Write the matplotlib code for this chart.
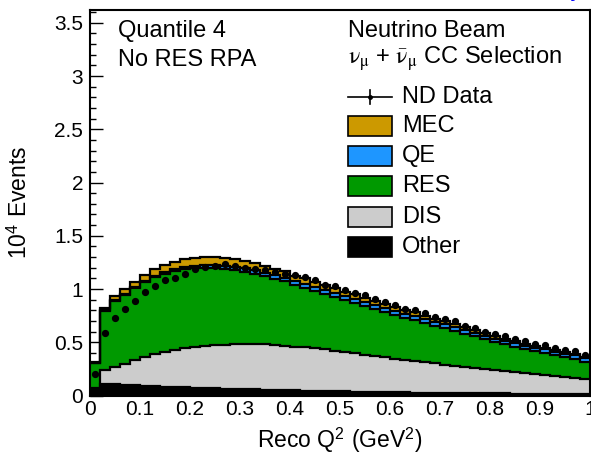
import numpy as np
import matplotlib
matplotlib.use("Agg")
import matplotlib.pyplot as plt
from matplotlib.patches import Rectangle
from matplotlib.lines import Line2D
from matplotlib.ticker import MultipleLocator, FuncFormatter

plt.rcParams['font.family'] = ['Liberation Sans', 'DejaVu Sans']
plt.rcParams['mathtext.fontset'] = 'stix'

# Reco Q^2 binning (GeV^2)
bin_edges = np.linspace(0.0, 1.0, 51)

# Simulated event counts per bin, in units of 10^4 events
other = [0.05, 0.11, 0.105, 0.10, 0.095, 0.09, 0.087, 0.083, 0.08, 0.077,
         0.074, 0.071, 0.068, 0.065, 0.062, 0.06, 0.057, 0.055, 0.053, 0.05,
         0.048, 0.046, 0.044, 0.042, 0.04, 0.038, 0.037, 0.035, 0.034, 0.032,
         0.031, 0.03, 0.028, 0.027, 0.026, 0.025, 0.024, 0.023, 0.022, 0.021,
         0.02, 0.019, 0.018, 0.017, 0.016, 0.015, 0.015, 0.014, 0.013, 0.012]
dis = [0.025, 0.125, 0.165, 0.20, 0.238, 0.274, 0.303, 0.327, 0.35, 0.368,
       0.381, 0.393, 0.402, 0.412, 0.418, 0.423, 0.426, 0.425, 0.422, 0.418,
       0.412, 0.406, 0.399, 0.391, 0.382, 0.372, 0.36, 0.348, 0.336, 0.326,
       0.316, 0.306, 0.297, 0.288, 0.276, 0.265, 0.255, 0.245, 0.235, 0.225,
       0.216, 0.207, 0.198, 0.19, 0.182, 0.174, 0.165, 0.158, 0.15, 0.143]
res = [0.23, 0.561, 0.619, 0.647, 0.677, 0.699, 0.72, 0.732, 0.736, 0.74,
       0.74, 0.733, 0.725, 0.708, 0.697, 0.68, 0.662, 0.638, 0.619, 0.604,
       0.575, 0.56, 0.541, 0.523, 0.506, 0.485, 0.475, 0.461, 0.446, 0.43,
       0.413, 0.396, 0.388, 0.369, 0.354, 0.342, 0.331, 0.313, 0.30, 0.284,
       0.265, 0.256, 0.243, 0.228, 0.218, 0.214, 0.199, 0.188, 0.184, 0.163]
qe = [0.002, 0.004, 0.006, 0.008, 0.01, 0.012, 0.015, 0.018, 0.02, 0.023,
      0.025, 0.028, 0.03, 0.032, 0.033, 0.034, 0.035, 0.035, 0.036, 0.036,
      0.036, 0.036, 0.036, 0.036, 0.036, 0.036, 0.036, 0.036, 0.036, 0.036,
      0.036, 0.036, 0.036, 0.036, 0.036, 0.036, 0.034, 0.034, 0.034, 0.033,
      0.033, 0.033, 0.032, 0.032, 0.032, 0.031, 0.031, 0.031, 0.03, 0.03]
mec = [0.01, 0.02, 0.035, 0.045, 0.05, 0.055, 0.06, 0.065, 0.07, 0.072,
       0.075, 0.075, 0.075, 0.073, 0.07, 0.068, 0.065, 0.062, 0.06, 0.057,
       0.054, 0.052, 0.05, 0.048, 0.046, 0.044, 0.042, 0.04, 0.038, 0.036,
       0.034, 0.032, 0.031, 0.03, 0.028, 0.027, 0.026, 0.025, 0.024, 0.022,
       0.021, 0.02, 0.019, 0.018, 0.017, 0.016, 0.015, 0.014, 0.013, 0.012]

# Near detector data, in units of 10^4 events
nd_data = [0.20, 0.59, 0.725, 0.81, 0.89, 0.975, 1.03, 1.085, 1.10, 1.14,
           1.19, 1.21, 1.22, 1.235, 1.215, 1.20, 1.185, 1.18, 1.16, 1.145,
           1.128, 1.113, 1.08, 1.04, 1.028, 0.988, 0.965, 0.94, 0.903, 0.878,
           0.853, 0.812, 0.803, 0.772, 0.74, 0.718, 0.695, 0.656, 0.637, 0.60,
           0.58, 0.559, 0.533, 0.509, 0.487, 0.477, 0.446, 0.424, 0.415, 0.377]

labels = ["Other", "DIS", "RES", "QE", "MEC"]
colors = ["#000000", "#cccccc", "#009900", "#1e96ff", "#cc9900"]

W, H = 591, 463
AX_L, AX_R, AX_T, AX_B = 90, 590, 10, 395.5

fig = plt.figure(figsize=(W / 100, H / 100), dpi=100)
ax = fig.add_axes([AX_L / W, 1 - AX_B / H, (AX_R - AX_L) / W, (AX_B - AX_T) / H])


def axpos(px, py):
    """Pixel position inside the canvas -> axes fraction."""
    return (px - AX_L) / (AX_R - AX_L), (AX_B - py) / (AX_B - AX_T)


stack = np.cumsum(np.array([other, dis, res, qe, mec]), axis=0)

# Filled stack, drawn from the outermost layer inwards
for i in reversed(range(len(labels))):
    ax.stairs(stack[i], bin_edges, baseline=0, fill=True,
              facecolor=colors[i], edgecolor='none', lw=0, zorder=2)
for i in range(len(labels)):
    ax.stairs(stack[i], bin_edges, baseline=None, fill=False,
              color='black', lw=1.6, zorder=3)

centers = 0.5 * (bin_edges[:-1] + bin_edges[1:])
data = np.array(nd_data)
err = np.sqrt(data * 1e4) / 1e4
ax.errorbar(centers, data, yerr=err, fmt='o', color='black', ms=4.2,
            elinewidth=1.0, capsize=0, zorder=4)

ax.set_xlim(0, 1)
ax.set_ylim(0, 3.62)
ax.xaxis.set_major_locator(MultipleLocator(0.1))
ax.xaxis.set_minor_locator(MultipleLocator(0.02))
ax.yaxis.set_major_locator(MultipleLocator(0.5))
ax.yaxis.set_minor_locator(MultipleLocator(0.1))
fmt = FuncFormatter(lambda v, p: "%g" % round(v, 3))
ax.xaxis.set_major_formatter(fmt)
ax.yaxis.set_major_formatter(fmt)
ax.tick_params(which='both', direction='in', top=False, right=False,
               labelsize=15, width=1.0)
ax.tick_params(axis='y', which='major', length=9, pad=5)
ax.tick_params(axis='y', which='minor', length=4.5)
ax.tick_params(axis='x', which='major', length=9, pad=3)
ax.tick_params(axis='x', which='minor', length=4.5)
for s in ax.spines.values():
    s.set_linewidth(1.5)
    s.set_zorder(5)

ax.set_xlabel(r"Reco Q$^{\mathregular{2}}$ (GeV$^{\mathregular{2}}$)", fontsize=16.5)
ax.set_ylabel(r"10$^{\mathregular{4}}$ Events", fontsize=16.5)
ax.xaxis.set_label_coords(0.5, axpos(0, 426)[1])
ax.yaxis.set_label_coords(axpos(32, 0)[0], 0.5)

FS = 17

# Annotations
for txt, px, py in [("Quantile 4", 118, 31), ("No RES RPA", 118, 60),
                    ("Neutrino Beam", 348, 31),
                    (r"$\mathrm{\nu_{\mu}}$ + $\mathrm{\bar{\nu}_{\mu}}$ CC Selection", 348, 59)]:
    ax.text(*axpos(px, py), txt, transform=ax.transAxes, fontsize=FS,
            va='center', ha='left')

# Legend
box_x0, box_x1, text_x = 348, 392, 402
ly = 97
x0, y0 = axpos(box_x0, ly)
x1, _ = axpos(box_x1, ly)
xm, _ = axpos((box_x0 + box_x1) / 2, ly)
_, yt = axpos(0, ly - 7)
_, yb = axpos(0, ly + 7)
ax.add_line(Line2D([x0, x1], [y0, y0], color='black', lw=1.2,
                   transform=ax.transAxes, zorder=6))
ax.add_line(Line2D([xm, xm], [yb, yt], color='black', lw=1.2,
                   transform=ax.transAxes, zorder=6))
ax.add_line(Line2D([xm], [y0], color='black', marker='o', ms=2.5,
                   transform=ax.transAxes, zorder=6))
ax.text(*axpos(text_x, ly), "ND Data", transform=ax.transAxes, fontsize=FS,
        va='center', ha='left')

for row, i in enumerate([4, 3, 2, 1, 0]):
    cy = 126 + 30.2 * row
    bx, by = axpos(box_x0, cy + 10)
    bw = (box_x1 - box_x0) / (AX_R - AX_L)
    bh = 20 / (AX_B - AX_T)
    ax.add_patch(Rectangle((bx, by), bw, bh, facecolor=colors[i],
                           edgecolor='black', lw=1.2, transform=ax.transAxes,
                           zorder=6))
    ax.text(*axpos(text_x, cy), labels[i], transform=ax.transAxes, fontsize=FS,
            va='center', ha='left')

fig.text(583 / W, 1 + 4 / H, "Preliminary", color='blue', fontsize=FS,
         ha='right', va='baseline')

fig.savefig("out.png", dpi=100)
